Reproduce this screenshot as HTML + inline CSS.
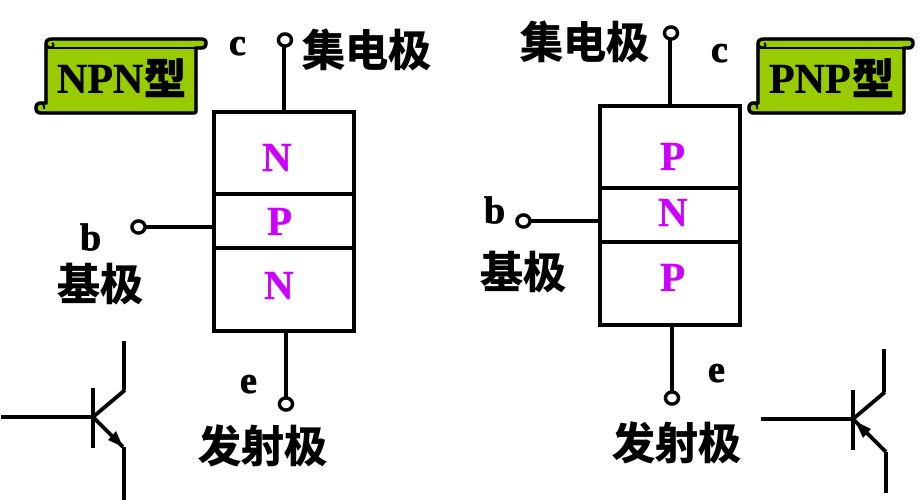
<!DOCTYPE html>
<html><head><meta charset="utf-8"><style>
html,body{margin:0;padding:0;background:#fff}
svg{display:block}
.cn{font-family:"Noto Sans CJK SC","WenQuanYi Zen Hei",sans-serif;font-weight:700;font-size:43px;fill:#000;stroke:#000;stroke-width:.8}
.l{font-family:"Liberation Serif",serif;font-weight:700;font-size:38px;fill:#000;stroke:#000;stroke-width:.8}
.m{font-family:"Liberation Serif",serif;font-weight:700;font-size:41px;fill:#cc00ff;stroke:#cc00ff;stroke-width:.4}
.t{font-family:"Liberation Serif",serif;font-weight:700;font-size:42px;fill:#000;stroke:#000;stroke-width:.5}
.tc{font-family:"Noto Sans CJK SC","WenQuanYi Zen Hei",sans-serif;font-weight:900;font-size:42px;fill:#000;stroke:#000;stroke-width:.6}
</style></head><body>
<svg width="920" height="503" viewBox="0 0 920 503" xmlns="http://www.w3.org/2000/svg">
<g fill="none" stroke="#000" stroke-width="4">
<!-- left -->
<rect x="214" y="112" width="140" height="219"/>
<path d="M214 194H354M214 248H354"/>
<path d="M284 46V112M286 331V398M146 227H214"/>
<ellipse cx="285" cy="40" rx="6.5" ry="6" stroke-width="3.5"/><ellipse cx="286" cy="404" rx="6.5" ry="6" stroke-width="3.5"/><ellipse cx="138.500" cy="227" rx="6.500" ry="6" stroke-width="3.5"/>
<!-- right -->
<rect x="600" y="106" width="140" height="219"/>
<path d="M600 188H740M600 242H740"/>
<path d="M670 39V106M672 325V392M530 221H600"/>
<ellipse cx="671" cy="33" rx="6.5" ry="6" stroke-width="3.5"/><ellipse cx="672" cy="398" rx="6.5" ry="6" stroke-width="3.5"/><ellipse cx="523.500" cy="221" rx="6.500" ry="6" stroke-width="3.5"/>
</g>
<!-- scrolls -->
<g stroke="#000" stroke-width="3.5" fill="#99cc00" stroke-linejoin="round">
<path d="M46 44Q46 39 52 39H201Q206 39 206 43Q206 48 201 48H196V111Q196 113 193 113H41Q36 113 36 108Q36 103 41 103H46Z"/>
<path d="M46 48H196" fill="none" stroke-width="2"/>
<path d="M47 45Q48 48 52 47Q55 45 52 43M41 103Q45 105 44 109" fill="none" stroke-width="2"/>
<path d="M758 44Q758 39 764 39H908Q913 39 913 43Q913 48 908 48H904V111Q904 113 901 113H754Q749 113 749 108Q749 103 754 103H758Z"/>
<path d="M758 48H904" fill="none" stroke-width="2"/>
<path d="M759 45Q760 48 764 47Q767 45 764 43M754 103Q758 105 757 109" fill="none" stroke-width="2"/>
</g>
<text class="t" x="57" y="93">NPN</text><text class="tc" x="144" y="94">型</text>
<text class="t" x="769" y="93">PNP</text><text class="tc" x="852" y="94">型</text>
<!-- labels -->
<text class="cn" x="302" y="66">集电极</text>
<text class="cn" x="520" y="58">集电极</text>
<text class="cn" x="57" y="300">基极</text>
<text class="cn" x="480" y="288">基极</text>
<text class="cn" x="198" y="462">发射极</text>
<text class="cn" x="612" y="459">发射极</text>
<text class="l" x="229" y="55">c</text>
<text class="l" x="711" y="62">c</text>
<text class="l" x="80" y="250">b</text>
<text class="l" x="484" y="223">b</text>
<text class="l" x="240" y="393">e</text>
<text class="l" x="708" y="382">e</text>
<text class="m" x="262" y="171">N</text>
<text class="m" x="267" y="235">P</text>
<text class="m" x="264" y="299">N</text>
<text class="m" x="660" y="170">P</text>
<text class="m" x="658" y="226">N</text>
<text class="m" x="660" y="291">P</text>
<!-- symbols -->
<g fill="none" stroke="#000" stroke-width="4">
<path d="M1 417H93M93 388V448M93 417L125 390M124 341V390M93 417L123 447M124 447V500"/>
<path d="M761 419H853M853 390V450M853 419L885 392M884 349V392M853 419L886 452M886 452V493"/>
</g>
<path d="M123 447L108 440L116 431Z"/>
<path d="M855 421L871 429L863 438Z"/>
</svg>
</body></html>
